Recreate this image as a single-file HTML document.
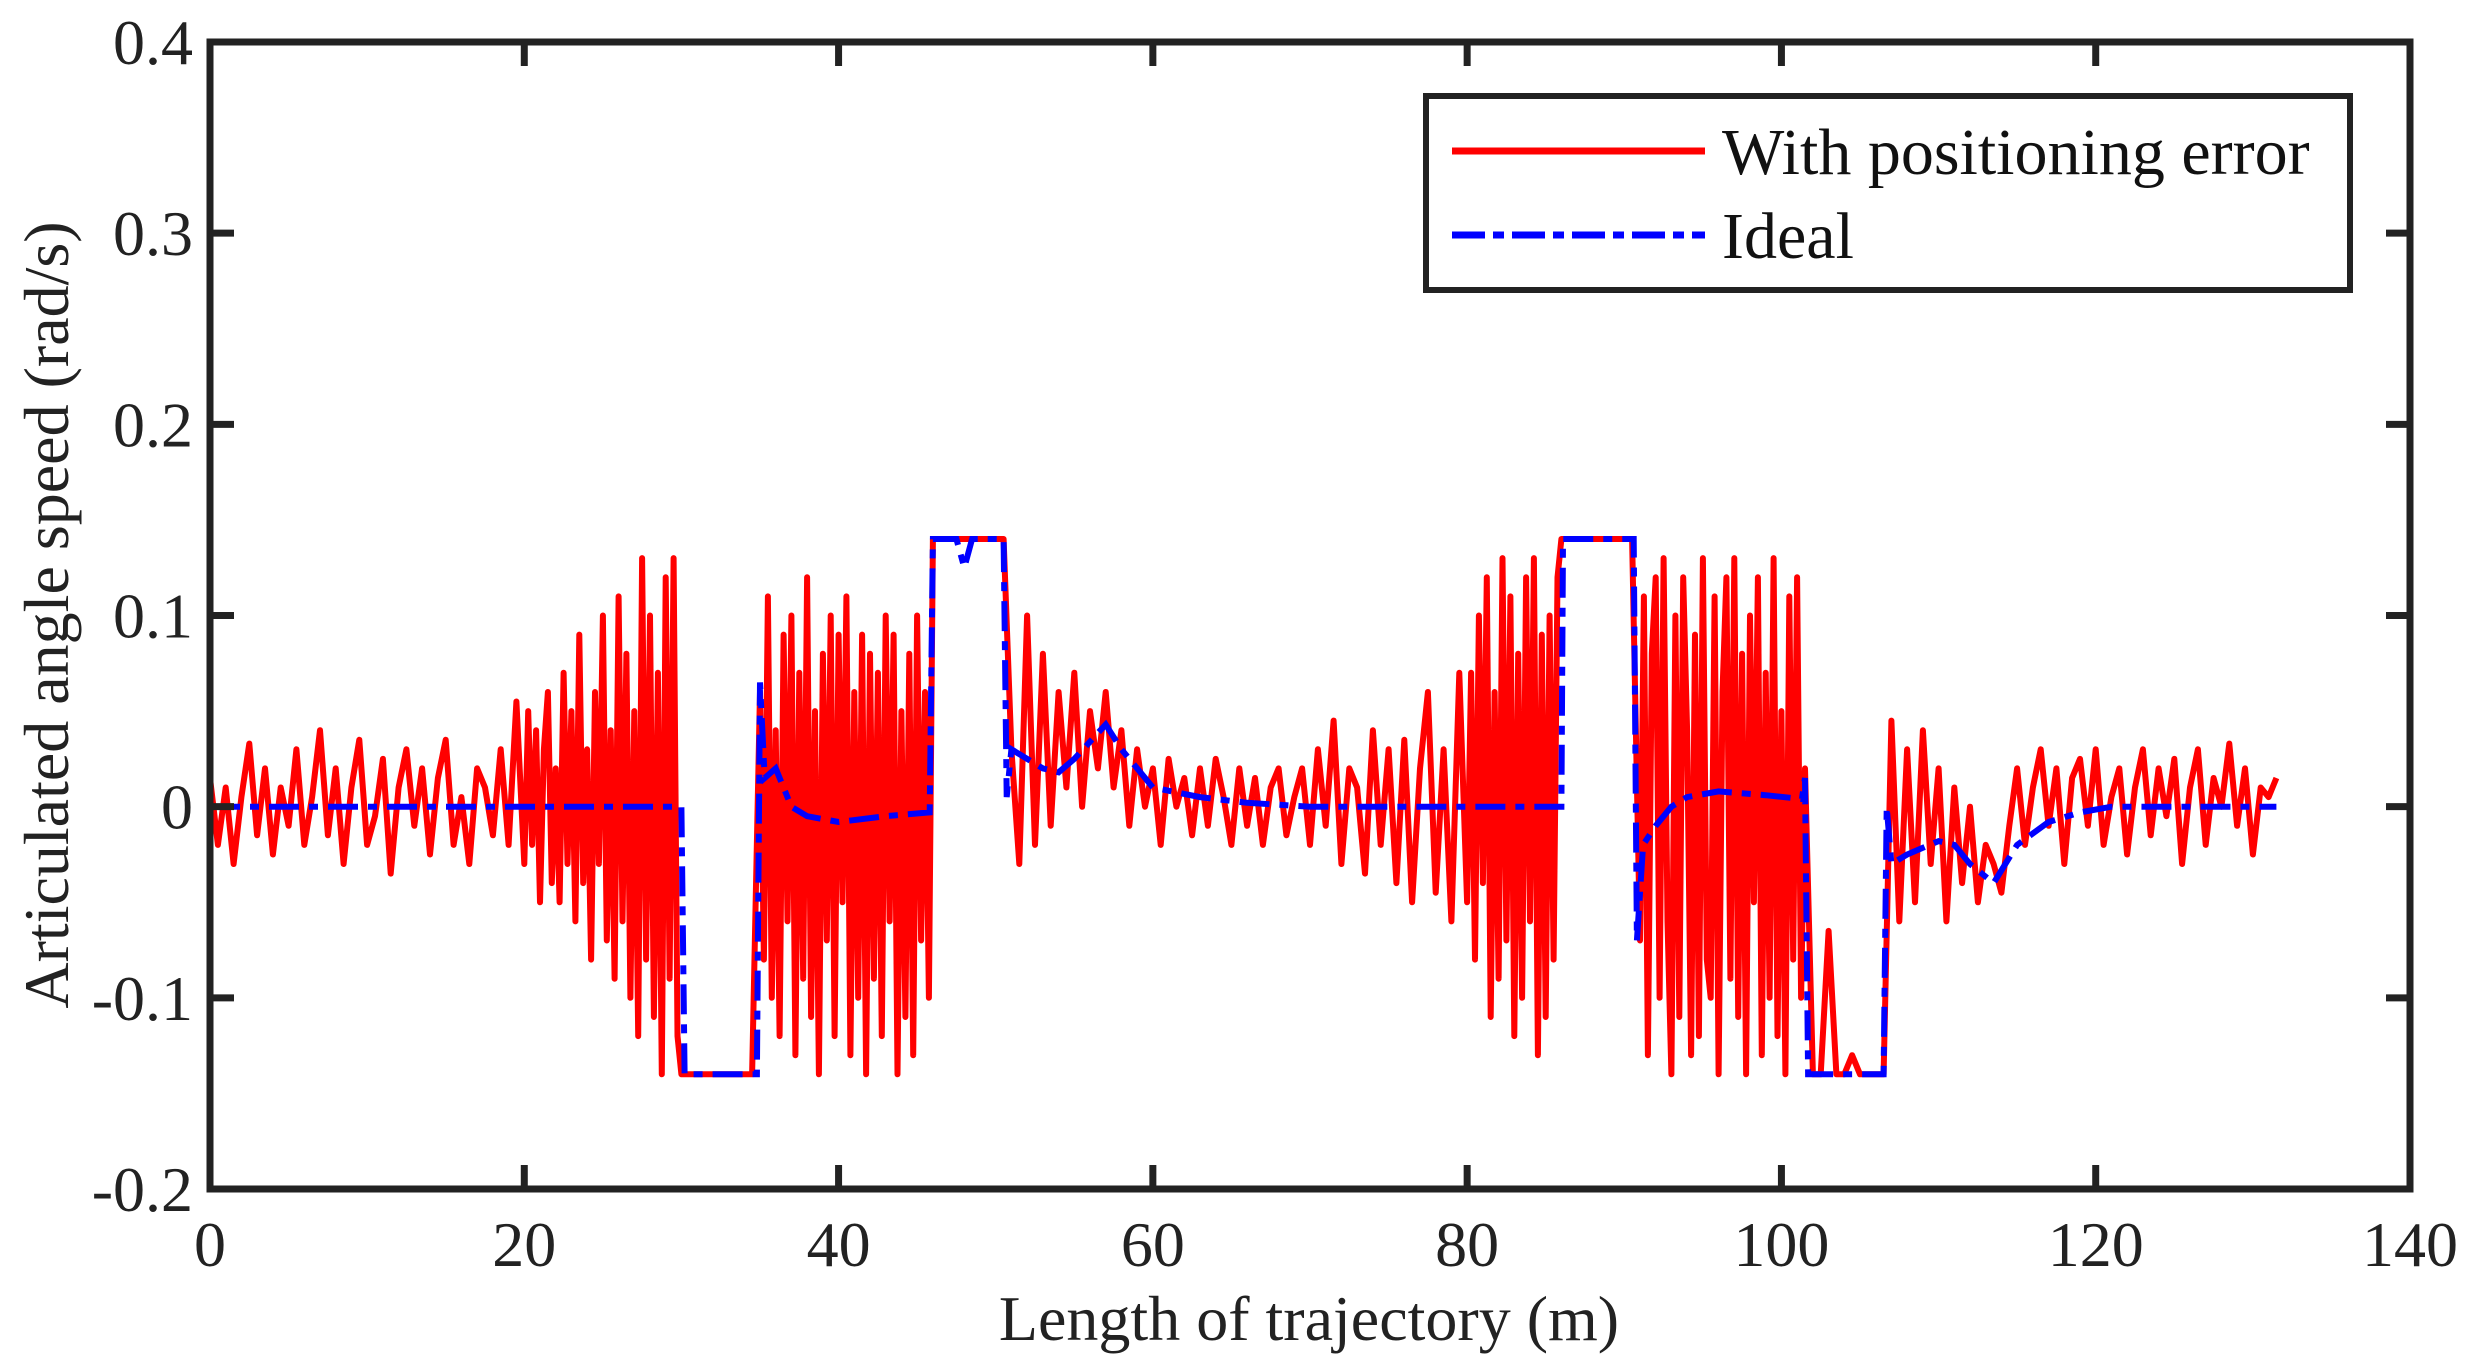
<!DOCTYPE html>
<html><head><meta charset="utf-8"><style>
html,body{margin:0;padding:0;background:#fff;}
svg{display:block;font-family:"Liberation Serif",serif;}
</style></head><body>
<svg id="chart" width="2475" height="1369" viewBox="0 0 2475 1369" xmlns="http://www.w3.org/2000/svg">
<rect width="2475" height="1369" fill="#fff"/>
<g id="plot"></g>
<g id="axes"></g>
<text x="1309" y="1340" font-size="64" text-anchor="middle" fill="#222">Length of trajectory (m)</text>
<text transform="translate(68,615) rotate(-90)" font-size="64" text-anchor="middle" fill="#222">Articulated angle speed (rad/s)</text>
<g>
<rect x="1426" y="96" width="924" height="194" fill="#fff" stroke="#222" stroke-width="6"/>
<line x1="1452" y1="151" x2="1705" y2="151" stroke="#f00" stroke-width="7"/>
<text x="1722" y="174" font-size="66" fill="#111">With positioning error</text>
<line x1="1452" y1="235" x2="1705" y2="235" stroke="#00f" stroke-width="7" stroke-dasharray="33 8 11 8"/>
<text x="1722" y="258" font-size="66" fill="#111">Ideal</text>
</g>
</svg>
<script>
const xTicks=[0,20,40,60,80,100,120,140];
const yTicks=[-0.2,-0.1,0,0.1,0.2,0.3,0.4];
const yTickLabels=["-0.2","-0.1","0","0.1","0.2","0.3","0.4"];
// sampling grid of the red series: [start x, step, count]
const redGrid=[[0,0.5,40],[20,0.25,40],[30,0.5,10],[35,0.25,44],[46,0.5,10],[51,0.5,58],[80,0.25,24],[86,0.5,10],[91,0.25,43],[102,0.5,10],[107,0.5,50]];
const redY=[0.015,-0.02,0.01,-0.03,0.005,0.033,-0.015,0.02,-0.025,0.01,-0.01,0.03,-0.02,0.005,0.04,-0.015,0.02,-0.03,0.01,0.035,-0.02,-0.005,0.025,-0.035,0.01,0.03,-0.01,0.02,-0.025,0.015,0.035,-0.02,0.005,-0.03,0.02,0.01,-0.015,0.03,-0.02,0.055,
-0.03,0.05,-0.02,0.04,-0.05,0.03,0.06,-0.04,0.02,-0.05,0.07,-0.03,0.05,-0.06,0.09,-0.04,0.03,-0.08,0.06,-0.03,0.10,-0.07,0.04,-0.09,0.11,-0.06,0.08,-0.10,0.05,-0.12,0.13,-0.08,0.10,-0.11,0.07,-0.14,0.12,-0.09,0.13,-0.12,
-0.14,-0.14,-0.14,-0.14,-0.14,-0.14,-0.14,-0.14,-0.14,-0.14,
0.06,-0.08,0.11,-0.10,0.04,-0.12,0.09,-0.06,0.10,-0.13,0.07,-0.09,0.12,-0.11,0.05,-0.14,0.08,-0.07,0.10,-0.12,0.09,-0.05,0.11,-0.13,0.06,-0.10,0.09,-0.14,0.08,-0.09,0.07,-0.12,0.10,-0.06,0.09,-0.14,0.05,-0.11,0.08,-0.13,0.10,-0.07,0.06,-0.10,
0.14,0.14,0.14,0.14,0.14,0.14,0.14,0.14,0.14,0.14,
0.03,-0.03,0.10,-0.02,0.08,-0.01,0.06,0.01,0.07,0.00,0.05,0.02,0.06,0.01,
0.04,-0.01,0.03,0.00,0.02,-0.02,0.025,0.0,0.015,-0.015,0.02,-0.01,0.025,0.005,-0.02,0.02,-0.01,0.015,-0.02,0.01,0.02,-0.015,0.005,0.02,
-0.02,0.03,-0.01,0.045,-0.03,0.02,0.01,-0.035,0.04,-0.02,0.03,-0.04,0.035,-0.05,0.02,0.06,-0.045,0.03,-0.06,0.07,
-0.05,0.07,-0.08,0.10,-0.04,0.12,-0.11,0.06,-0.09,0.13,-0.07,0.11,-0.12,0.08,-0.10,0.12,-0.06,0.13,-0.13,0.09,-0.11,0.10,-0.08,0.12,
0.14,0.14,0.14,0.14,0.14,0.14,0.14,0.14,0.14,0.14,
-0.07,0.11,-0.13,0.08,0.12,-0.10,0.13,-0.06,-0.14,0.10,-0.11,0.12,0.04,-0.13,0.09,-0.12,0.13,-0.08,-0.10,0.11,-0.14,0.06,0.12,-0.09,0.13,-0.11,0.08,-0.14,0.10,-0.05,0.12,-0.13,0.07,-0.10,0.13,-0.12,0.05,-0.14,0.11,-0.08,0.12,-0.10,0.02,
-0.14,-0.14,-0.065,-0.14,-0.14,-0.13,-0.14,-0.14,-0.14,-0.14,
0.045,-0.06,0.03,-0.05,0.04,-0.03,0.02,-0.06,0.01,-0.04,0.0,-0.05,-0.02,-0.03,-0.045,-0.01,
0.02,-0.02,0.01,0.03,-0.01,0.02,-0.03,0.015,0.025,-0.01,0.03,-0.02,0.005,0.02,-0.025,0.01,0.03,-0.015,0.02,-0.005,0.025,-0.03,0.01,0.03,-0.02,0.015,0.0,0.033,-0.01,0.02,-0.025,0.01,0.005,0.015];
const idealX=[0,30,30.2,34.8,35,35.3,36,37,38,40,43,45.8,46,47.5,48,48.5,50.5,50.7,51,53,54,55,57,58,60,63,66,70,86,86.1,90.6,90.8,91.2,92,93,94,96,99,101.3,101.5,101.7,106.5,106.7,107,108,110,111,112,113.5,115,117,119,121,131.5];
const idealY=[0,0,-0.14,-0.14,0.065,0.015,0.02,0.0,-0.005,-0.008,-0.005,-0.003,0.14,0.14,0.125,0.14,0.14,0.005,0.03,0.02,0.018,0.025,0.043,0.03,0.01,0.005,0.002,0,0,0.14,0.14,-0.07,-0.02,-0.01,0.0,0.005,0.008,0.006,0.004,0.015,-0.14,-0.14,0.0,-0.03,-0.025,-0.018,-0.02,-0.03,-0.04,-0.02,-0.008,-0.003,0,0];

const L=210,R=2410,T=42,B=1189;
const xs=v=>L+(v-0)/(140-0)*(R-L);
const ys=v=>B-(v+0.2)/(0.6)*(B-T);
const NS="http://www.w3.org/2000/svg";
const plot=document.getElementById('plot'), axes=document.getElementById('axes');

const redX=[];
redGrid.forEach(g=>{for(let k=0;k<g[2];k++)redX.push(g[0]+k*g[1]);});
let d='';
redY.forEach((v,i)=>{if(i<redX.length)d+=(i?'L':'M')+xs(redX[i]).toFixed(1)+','+ys(v).toFixed(1);});
const red=document.createElementNS(NS,'path');
red.setAttribute('d',d);red.setAttribute('fill','none');red.setAttribute('stroke','#f00');
red.setAttribute('stroke-width','6');red.setAttribute('stroke-linejoin','round');


plot.appendChild(red);

let d2='';
idealX.forEach((x,i)=>{d2+=(i?'L':'M')+xs(x).toFixed(1)+','+ys(idealY[i]).toFixed(1);});
const blue=document.createElementNS(NS,'path');
blue.setAttribute('d',d2);blue.setAttribute('fill','none');blue.setAttribute('stroke','#00f');
blue.setAttribute('stroke-width','6');blue.setAttribute('stroke-dasharray','30 10 9 10');


plot.appendChild(blue);

const frame=document.createElementNS(NS,'rect');
frame.setAttribute('x',L);frame.setAttribute('y',T);frame.setAttribute('width',R-L);frame.setAttribute('height',B-T);
frame.setAttribute('fill','none');frame.setAttribute('stroke','#222');frame.setAttribute('stroke-width','7');


axes.appendChild(frame);

xTicks.forEach(v=>{
  const x=xs(v);
  [[B,B-24],[T,T+24]].forEach(p=>{
    const t=document.createElementNS(NS,'line');
    t.setAttribute('x1',x);t.setAttribute('x2',x);t.setAttribute('y1',p[0]);t.setAttribute('y2',p[1]);
    t.setAttribute('stroke','#222');t.setAttribute('stroke-width','7');
    
    
    axes.appendChild(t);
  });
  const lb=document.createElementNS(NS,'text');
  lb.setAttribute('x',x);lb.setAttribute('y',1266);lb.setAttribute('font-size','64');
  lb.setAttribute('text-anchor','middle');lb.setAttribute('fill','#222');lb.textContent=v;
  
  
  axes.appendChild(lb);
});
yTicks.forEach((v,i)=>{
  const y=ys(v);
  [[L,L+24],[R,R-24]].forEach(p=>{
    const t=document.createElementNS(NS,'line');
    t.setAttribute('x1',p[0]);t.setAttribute('x2',p[1]);t.setAttribute('y1',y);t.setAttribute('y2',y);
    t.setAttribute('stroke','#222');t.setAttribute('stroke-width','7');
    
    
    axes.appendChild(t);
  });
  const lb=document.createElementNS(NS,'text');
  lb.setAttribute('x',193);lb.setAttribute('y',y+22);lb.setAttribute('font-size','64');
  lb.setAttribute('text-anchor','end');lb.setAttribute('fill','#222');lb.textContent=yTickLabels[i];
  
  
  axes.appendChild(lb);
});
</script>
</body></html>
